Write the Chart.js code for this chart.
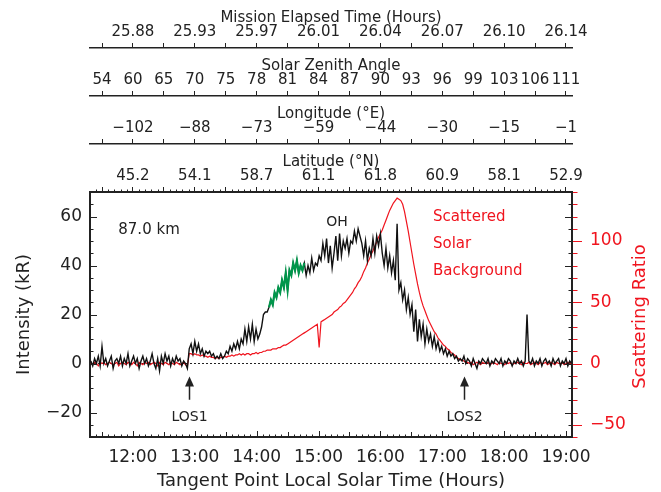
<!DOCTYPE html>
<html><head><meta charset="utf-8">
<script src="https://cdn.jsdelivr.net/npm/chart.js@4/dist/chart.umd.min.js"></script>
<style>html,body{margin:0;padding:0;background:#fff;}canvas{display:block;}</style>
</head><body>
<canvas id="c" width="661" height="492"></canvas>
<script>
// ---------------- DATA ----------------
const times = [
11.32,11.35,11.38,11.41,11.44,11.47,11.50,11.53,11.56,11.59,
11.62,11.65,11.68,11.71,11.74,11.77,11.80,11.83,11.86,11.89,
11.92,11.95,11.98,12.01,12.04,12.07,12.10,12.13,12.16,12.19,
12.22,12.25,12.28,12.31,12.34,12.37,12.40,12.43,12.46,12.49,
12.52,12.55,12.58,12.61,12.64,12.67,12.70,12.73,12.76,12.79,
12.82,12.85,12.88,12.91,12.94,12.97,13.00,13.03,13.06,13.09,
13.12,13.15,13.18,13.21,13.24,13.27,13.30,13.33,13.36,13.39,
13.42,13.45,13.48,13.51,13.54,13.57,13.60,13.63,13.66,13.69,
13.72,13.75,13.78,13.81,13.84,13.87,13.90,13.93,13.96,13.99,
14.02,14.05,14.08,14.11,14.14,14.17,14.20,14.23,14.26,14.29,
14.32,14.35,14.38,14.41,14.44,14.47,14.50,14.53,14.56,14.59,
14.62,14.65,14.68,14.71,14.74,14.77,14.80,14.83,14.86,14.89,
14.92,14.95,14.98,15.01,15.04,15.07,15.10,15.13,15.16,15.19,
15.22,15.25,15.28,15.31,15.34,15.37,15.40,15.43,15.46,15.49,
15.52,15.55,15.58,15.61,15.64,15.67,15.70,15.73,15.76,15.79,
15.82,15.85,15.88,15.91,15.94,15.97,16.00,16.03,16.06,16.09,
16.12,16.15,16.18,16.21,16.24,16.27,16.30,16.33,16.36,16.39,
16.42,16.45,16.48,16.51,16.54,16.57,16.60,16.63,16.66,16.69,
16.72,16.75,16.78,16.81,16.84,16.87,16.90,16.93,16.96,16.99,
17.02,17.05,17.08,17.11,17.14,17.17,17.20,17.23,17.26,17.29,
17.32,17.35,17.38,17.41,17.44,17.47,17.50,17.53,17.56,17.59,
17.62,17.65,17.68,17.71,17.74,17.77,17.80,17.83,17.86,17.89,
17.92,17.95,17.98,18.01,18.04,18.07,18.10,18.13,18.16,18.19,
18.22,18.25,18.28,18.31,18.34,18.37,18.40,18.43,18.46,18.49,
18.52,18.55,18.58,18.61,18.64,18.67,18.70,18.73,18.76,18.79,
18.82,18.85,18.88,18.91,18.94,18.97,19.00,19.03,19.06,19.09];

// OH intensity (kR), left axis
const ohIntensity = [
1,-1,2,0,3,-1,7,0,2,-1,
1,3,-2,1,2,0,3,-1,2,0,
4,-1,1,3,0,2,-2,1,3,0,
2,-1,1,4,0,-2,2,-3,3,0,
4,1,3,-1,2,0,3,1,2,-1,
1,0,-2,6,8,4,9,5,8,4,
6,3,5,4,5,3,4,2,3,2,
4,2,3,5,4,7,5,8,6,9,
6,10,8,14,9,15,10,16,9,14,
10,12,15,20,21,21,23,26,24,29,
27,31,29,34,31,37,30,38,36,41,
38,42,37,40,38,41,36,40,37,43,
38,41,40,44,42,49,44,51,41,48,
39,45,52,42,53,44,50,47,51,45,
50,49,54,50,55,52,49,44,50,42,
47,44,51,45,52,48,53,45,40,47,
39,44,37,42,34,57,30,33,26,30,
22,27,20,24,13,22,9,18,11,16,
8,14,9,12,7,11,6,9,5,7,
4,6,3,5,3,4,2,3,1,2,
1,3,0,2,1,-1,2,0,-2,1,
0,2,1,0,2,-1,1,0,2,1,
0,2,-1,1,0,2,1,-1,1,0,
2,0,1,-1,1,20,1,0,2,-1,
1,0,2,-1,1,2,0,1,-1,2,
0,1,2,-1,1,0,2,-1,1,0];

// Scattered solar background (scattering ratio), right axis
const scatteringRatio = [
0,-1,1,0,-2,1,0,1,-1,0,
1,0,-1,0,1,-2,0,1,0,-1,
1,0,-1,1,0,-2,1,0,-1,1,
0,1,-1,0,1,0,-2,1,0,-1,
1,0,-1,1,0,-1,1,0,-1,0,
1,-1,-2,8,8,7,8,7,7,6,
7,6,6,5,6,5,5,4,5,4,
5,5,6,5,6,6,7,6,7,7,
8,7,8,7,8,8,7,8,8,9,
8,9,9,10,10,11,11,11,12,12,
12,13,13,14,15,15,16,17,18,19,
20,21,22,23,24,25,26,27,28,29,
30,31,32,13,34,35,36,37,38,39,
40,42,43,44,46,47,49,50,52,54,
56,58,61,63,66,68,71,75,78,82,
85,89,92,96,99,103,106,109,113,117,
121,125,128,131,133,135,134,133,130,124,
116,108,99,90,81,73,65,58,52,47,
43,39,35,32,29,26,24,21,19,17,
15,14,12,11,9,8,7,5,4,3,
3,2,1,1,0,1,-1,0,1,0,
-1,1,0,0,1,-1,0,1,0,-1,
1,0,0,-1,1,0,1,-1,0,0,
1,0,-1,1,0,0,1,-1,0,1,
0,-1,1,0,0,1,-1,0,1,0,
-1,1,0,0,1,-1,0,1,0,0];

const greenWindow = [14.18, 14.79];           // highlighted part of the OH curve
const hourTicks = [12,13,14,15,16,17,18,19];
const halfHourTicks = [11.5,12,12.5,13,13.5,14,14.5,15,15.5,16,16.5,17,17.5,18,18.5,19];
const timeLabels = ['12:00','13:00','14:00','15:00','16:00','17:00','18:00','19:00'];
const metLabels = ['25.88','25.93','25.97','26.01','26.04','26.07','26.10','26.14'];
const szaLabels = ['54','60','65','70','75','78','81','84','87','90','93','96','99','103','106','111'];
const lonLabels = ['\u2212102','\u221288','\u221273','\u221259','\u221244','\u221230','\u221215','\u22121'];
const latLabels = ['45.2','54.1','58.7','61.1','61.8','60.9','58.1','52.9'];
const intensityTicks = [-20,0,20,40,60];
const ratioTicks = [-50,0,50,100];
const losTimes = [12.91, 17.35];
const losLabels = ['LOS1','LOS2'];

// ---------------- STYLE / LAYOUT ----------------
const X_MIN = 11.306, X_MAX = 19.097;
const INK = '#222222', RED = '#f0141e', GREEN = '#00964b';
const FONT = '"DejaVu Sans", sans-serif';
Chart.defaults.font.family = FONT;
Chart.defaults.color = INK;

const notes = {
  km:   {t:12.26, v:54.3, text:'87.0 km'},
  oh:   {t:15.30, v:57.8, text:'OH'},
  bg:   {t:16.85, lines:[['Scattered',59.6],['Solar',48.9],['Background',37.8]]},
  los:  {tip:-5.3, tail:-14.8, label:-21.8}
};

const fmt = v => v < 0 ? '\u2212' + Math.abs(v) : String(v);

function topAxis(weight, title, labels) {
  return {
    type:'linear', position:'top', min:X_MIN, max:X_MAX, weight,
    afterBuildTicks: s => { s.ticks = halfHourTicks.map(v => ({value:v})); },
    afterFit: s => { s.height = 48; },
    ticks: {
      autoSkip:false, maxRotation:0, minRotation:0, padding:2, color:INK, font:{size:15},
      callback: v => {
        if (labels.length === halfHourTicks.length) return labels[halfHourTicks.indexOf(v)];
        const k = hourTicks.indexOf(v); return k >= 0 ? labels[k] : '';
      }
    },
    grid: {drawOnChartArea:false, drawTicks:true, tickLength:5, color:INK, lineWidth:1},
    border: {display:true, color:INK, width: weight === 1 ? 2 : 1.5},
    title: {display:true, text:title, color:INK, font:{size:15}, padding:{top:9, bottom:0}}
  };
}

const decorations = {
  id:'decorations',
  afterDatasetsDraw(chart) {
    const {ctx, chartArea:{left, right, top, bottom}, scales:{x, y, y2}} = chart;
    ctx.save();
    ctx.lineWidth = 1;
    ctx.strokeStyle = INK;
    ctx.beginPath();
    // bottom (inside) and top latitude minor ticks
    for (let k = 114; k <= 190; k++) {
      const px = Math.round(x.getPixelForValue(k / 10)) + 0.5;
      const len = k % 10 === 0 ? 6 : (k % 5 === 0 ? 5 : 2.5);
      ctx.moveTo(px, bottom); ctx.lineTo(px, bottom - len);
      if (k % 5 !== 0) { ctx.moveTo(px, top); ctx.lineTo(px, top - 2.5); }
    }
    // left axis ticks (inside) mirrored on right frame
    for (let v = -30; v <= 70; v += 5) {
      const py = Math.round(y.getPixelForValue(v)) + 0.5;
      const len = v % 20 === 0 ? 7 : 3.5;
      ctx.moveTo(left, py); ctx.lineTo(left + len, py);
      ctx.moveTo(right, py); ctx.lineTo(right - len, py);
    }
    ctx.stroke();
    // right (red) ticks outward
    ctx.strokeStyle = RED;
    ctx.beginPath();
    for (let v = -60; v <= 140; v += 10) {
      const py = Math.round(y2.getPixelForValue(v)) + 0.5;
      const len = v % 50 === 0 ? 9 : 4.5;
      ctx.moveTo(right + 1, py); ctx.lineTo(right + 1 + len, py);
    }
    ctx.stroke();

    // annotations
    ctx.textAlign = 'center'; ctx.textBaseline = 'middle';
    ctx.fillStyle = INK;
    ctx.font = '15px ' + FONT;
    ctx.fillText(notes.km.text, x.getPixelForValue(notes.km.t), y.getPixelForValue(notes.km.v));
    ctx.font = '14px ' + FONT;
    ctx.fillText(notes.oh.text, x.getPixelForValue(notes.oh.t), y.getPixelForValue(notes.oh.v));
    ctx.fillStyle = RED; ctx.textAlign = 'left';
    ctx.font = '15px ' + FONT;
    for (const [txt, v] of notes.bg.lines) ctx.fillText(txt, x.getPixelForValue(notes.bg.t), y.getPixelForValue(v));

    // LOS arrows
    ctx.fillStyle = INK; ctx.strokeStyle = INK; ctx.lineWidth = 1.5;
    ctx.textAlign = 'center';
    ctx.font = '14px ' + FONT;
    losTimes.forEach((t, i) => {
      const px = Math.round(x.getPixelForValue(t)) + 0.5;
      const yt = y.getPixelForValue(notes.los.tip), yb = y.getPixelForValue(notes.los.tail);
      ctx.beginPath(); ctx.moveTo(px, yt + 6); ctx.lineTo(px, yb); ctx.stroke();
      ctx.beginPath(); ctx.moveTo(px, yt); ctx.lineTo(px - 4.5, yt + 10); ctx.lineTo(px + 4.5, yt + 10); ctx.closePath(); ctx.fill();
      ctx.fillText(losLabels[i], px, y.getPixelForValue(notes.los.label));
    });

    // right axis title (reads bottom-to-top)
    ctx.save();
    ctx.translate(640, (top + bottom) / 2 + 2);
    ctx.rotate(-Math.PI / 2);
    ctx.fillStyle = RED; ctx.font = '18px ' + FONT;
    ctx.fillText('Scattering Ratio', 0, 0);
    ctx.restore();
    ctx.restore();
  }
};

const pts = (vals) => times.map((t, i) => ({x:t, y:vals[i]}));
const greenPts = times.map((t, i) => ({x:t, y:ohIntensity[i]})).filter(p => p.x >= greenWindow[0] && p.x <= greenWindow[1]);

new Chart(document.getElementById('c'), {
  type:'line',
  data: {
    datasets: [
      {label:'OH (green)', data:greenPts, xAxisID:'x', yAxisID:'y', borderColor:GREEN, borderWidth:2.2, pointRadius:0, tension:0, order:0},
      {label:'OH', data:pts(ohIntensity), xAxisID:'x', yAxisID:'y', borderColor:'#111', borderWidth:1.4, pointRadius:0, tension:0, order:1},
      {label:'Scattered Solar Background', data:pts(scatteringRatio), xAxisID:'x', yAxisID:'y2', borderColor:RED, borderWidth:1.2, pointRadius:0, tension:0, order:2},
      {label:'zero', data:[{x:X_MIN, y:0}, {x:X_MAX, y:0}], xAxisID:'x', yAxisID:'y', borderColor:INK, borderWidth:1, borderDash:[2,2], pointRadius:0, order:3}
    ]
  },
  options: {
    responsive:false, animation:false, devicePixelRatio:1,
    layout:{padding:0},
    plugins:{legend:{display:false}, tooltip:{enabled:false}},
    scales: {
      x: {
        type:'linear', position:'bottom', min:X_MIN, max:X_MAX,
        afterBuildTicks: s => { s.ticks = hourTicks.map(v => ({value:v})); },
        afterFit: s => { s.height = 55; },
        ticks: {autoSkip:false, maxRotation:0, minRotation:0, padding:10, color:INK, font:{size:17},
          callback: v => timeLabels[hourTicks.indexOf(v)]},
        grid: {display:false, drawTicks:false},
        border: {display:true, color:INK, width:2},
        title: {display:true, text:'Tangent Point Local Solar Time (Hours)', color:INK, font:{size:18}, padding:{top:0, bottom:0}}
      },
      xLat: topAxis(1, 'Latitude (\u00B0N)', latLabels),
      xLon: topAxis(2, 'Longitude (\u00B0E)', lonLabels),
      xSza: topAxis(3, 'Solar Zenith Angle', szaLabels),
      xMet: topAxis(4, 'Mission Elapsed Time (Hours)', metLabels),
      y: {
        type:'linear', position:'left', min:-30, max:70,
        afterBuildTicks: s => { s.ticks = intensityTicks.map(v => ({value:v})); },
        afterFit: s => { s.width = 90; },
        ticks: {padding:8, color:INK, font:{size:17}, callback: v => fmt(v)},
        grid: {display:false, drawTicks:false},
        border: {display:true, color:INK, width:2},
        title: {display:true, text:'Intensity (kR)', color:INK, font:{size:18}, padding:{top:14, bottom:0}}
      },
      y2: {
        type:'linear', position:'right', min:-60, max:140,
        afterBuildTicks: s => { s.ticks = ratioTicks.map(v => ({value:v})); },
        afterFit: s => { s.width = 89; },
        ticks: {padding:18, color:RED, font:{size:17}, callback: v => fmt(v)},
        grid: {display:false, drawTicks:false},
        border: {display:true, color:INK, width:2},
        title: {display:false}
      }
    }
  },
  plugins:[decorations]
});
</script>
</body></html>
